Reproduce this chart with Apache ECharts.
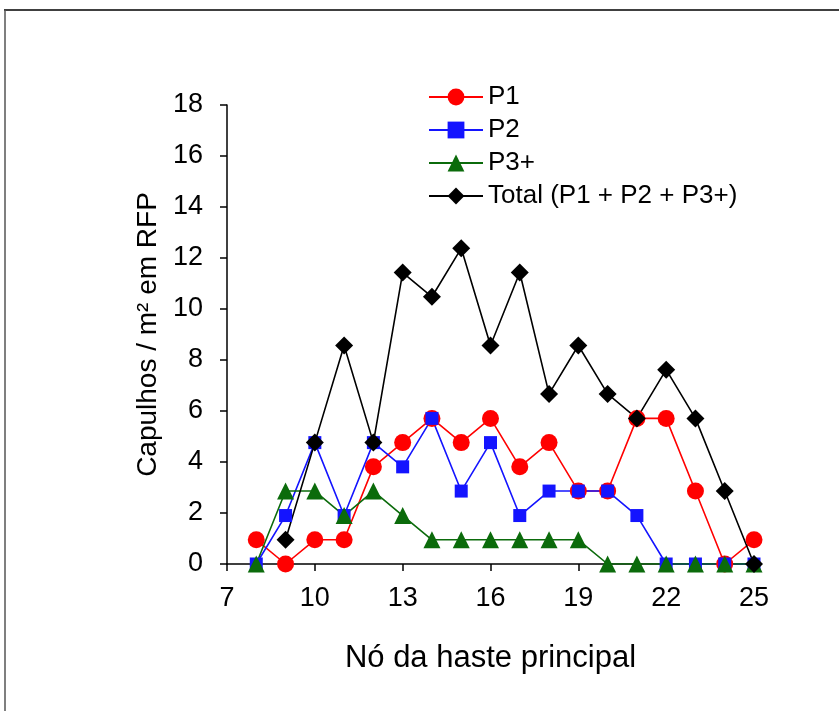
<!DOCTYPE html>
<html>
<head>
<meta charset="utf-8">
<script src="https://cdn.jsdelivr.net/npm/echarts@6/dist/echarts.min.js"></script>
<style>
html,body{margin:0;padding:0;background:#fff;}
#chart{width:839px;height:711px;}
</style>
</head>
<body>
<div id="chart"></div>
<script>
var nodes = [8, 9, 10, 11, 12, 13, 14, 15, 16, 17, 18, 19, 20, 21, 22, 23, 24, 25];
var p1 = [0.95, 0, 0.95, 0.95, 3.81, 4.76, 5.71, 4.76, 5.71, 3.81, 4.76, 2.86, 2.86, 5.71, 5.71, 2.86, 0, 0.95];
var p2 = [0, 1.9, 4.76, 1.9, 4.76, 3.81, 5.71, 2.86, 4.76, 1.9, 2.86, 2.86, 2.86, 1.9, 0, 0, 0, 0];
var p3 = [0, 2.86, 2.86, 1.9, 2.86, 1.9, 0.95, 0.95, 0.95, 0.95, 0.95, 0.95, 0, 0, 0, 0, 0, 0];
var total = [null, 0.95, 4.76, 8.57, 4.76, 11.43, 10.48, 12.38, 8.57, 11.43, 6.67, 8.57, 6.67, 5.71, 7.62, 5.71, 2.86, 0];
var seriesNames = ['P1', 'P2', 'P3+', 'Total (P1 + P2 + P3+)'];
var xTicks = [7, 10, 13, 16, 19, 22, 25];

function pairs(vals) {
  var out = [];
  for (var i = 0; i < nodes.length; i++) {
    if (vals[i] !== null) out.push([nodes[i], vals[i]]);
  }
  return out;
}

var font = 'Liberation Sans, Arial, sans-serif';
var chart = echarts.init(document.getElementById('chart'), null, {renderer: 'canvas'});

function mk(name, vals, color, symbol, size) {
  return {
    name: name,
    type: 'line',
    data: pairs(vals),
    symbol: symbol,
    symbolSize: size,
    itemStyle: {color: color},
    lineStyle: {color: color, width: 1.6},
    emphasis: {disabled: true},
    animation: false
  };
}

chart.setOption({
  animation: false,
  backgroundColor: '#fff',
  graphic: [
    {type: 'line', shape: {x1: 4, y1: 10, x2: 839, y2: 10}, style: {stroke: '#000', lineWidth: 1.5}},
    {type: 'line', shape: {x1: 5, y1: 10, x2: 5, y2: 711}, style: {stroke: '#555', lineWidth: 1.5}}
  ],
  grid: {left: 227, top: 105, right: 85, bottom: 147, containLabel: false},
  legend: {
    orient: 'vertical',
    left: 423,
    top: 79,
    itemWidth: 54,
    itemHeight: 21,
    itemGap: 7,
    data: seriesNames,
    textStyle: {fontFamily: font, fontSize: 26, color: '#000'}
  },
  xAxis: {
    type: 'value',
    min: 7,
    max: 25,
    interval: 3,
    name: 'Nó da haste principal',
    nameLocation: 'middle',
    nameGap: 79,
    nameTextStyle: {fontFamily: font, fontSize: 31, color: '#000'},
    axisLine: {show: true, lineStyle: {color: '#000', width: 1.5}},
    axisTick: {show: true, length: 7, lineStyle: {color: '#000', width: 1.5}},
    axisLabel: {fontFamily: font, fontSize: 27, color: '#000', margin: 21,
      formatter: function (v) { return xTicks.indexOf(v) >= 0 ? String(v) : ''; }},
    splitLine: {show: false}
  },
  yAxis: {
    type: 'value',
    min: 0,
    max: 18,
    interval: 2,
    name: 'Capulhos / m² em RFP',
    nameLocation: 'middle',
    nameGap: 63,
    nameTextStyle: {fontFamily: font, fontSize: 28, color: '#000'},
    axisLine: {show: true, lineStyle: {color: '#000', width: 1.5}},
    axisTick: {show: true, length: 7, lineStyle: {color: '#000', width: 1.5}},
    axisLabel: {fontFamily: font, fontSize: 27, color: '#000', margin: 24},
    splitLine: {show: false}
  },
  series: [
    mk(seriesNames[0], p1, '#ff0000', 'circle', 17),
    mk(seriesNames[1], p2, '#1414ff', 'rect', 13),
    mk(seriesNames[2], p3, '#0b6b0b', 'triangle', 17),
    mk(seriesNames[3], total, '#000000', 'diamond', 18)
  ]
});
</script>
</body>
</html>
